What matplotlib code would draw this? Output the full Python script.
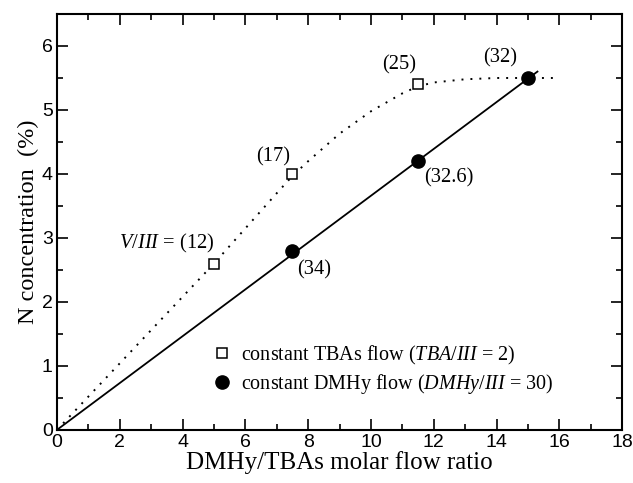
import matplotlib
matplotlib.use("Agg")
import matplotlib.pyplot as plt
from matplotlib.ticker import MultipleLocator

plt.rcParams["font.family"] = ["Liberation Serif", "DejaVu Serif"]
plt.rcParams["mathtext.fontset"] = "custom"
plt.rcParams["mathtext.rm"] = "Liberation Serif"
plt.rcParams["mathtext.it"] = "Liberation Serif:italic"

# constant TBAs flow (open squares)
tba_x = [5.0, 7.5, 11.5]
tba_y = [2.6, 4.0, 5.4]
tba_labels = ["(12)", "(17)", "(25)"]

# constant DMHy flow (filled circles)
dmhy_x = [7.5, 11.5, 15.0]
dmhy_y = [2.8, 4.2, 5.5]
dmhy_labels = ["(34)", "(32.6)", "(32)"]

# guide curves
curve_x = [0, 1, 2, 3, 4, 5, 6, 7, 7.5, 8, 9, 10, 11, 11.5, 12, 13, 14, 15, 16]
curve_y = [0, 0.52, 1.04, 1.56, 2.08, 2.6, 3.15, 3.7, 3.97, 4.2, 4.63, 4.98, 5.26,
           5.37, 5.43, 5.48, 5.5, 5.5, 5.5]
fit_x = [0, 15.3]
fit_y = [0, 5.6]

fig = plt.figure(figsize=(6.33, 4.83), dpi=100)
ax = fig.add_axes([0.090, 0.110, 0.893, 0.861])

ax.plot(curve_x, curve_y, color="black", lw=1.4, ls=(0, (1, 3.6)))
ax.plot(fit_x, fit_y, color="black", lw=1.3)
ax.plot(tba_x, tba_y, ls="none", marker="s", ms=7.5, mfc="white", mec="black", mew=1.1,
        label=r"constant TBAs flow ($\mathit{TBA/III}$ = 2)")
ax.plot(dmhy_x, dmhy_y, ls="none", marker="o", ms=9.5, color="black",
        label=r"constant DMHy flow ($\mathit{DMHy/III}$ = 30)")

# ratio annotations
fs = 14.8
ax.text(5.03, 2.92, r"$\mathit{V/III}$ = " + tba_labels[0], ha="right", va="center", fontsize=fs)
ax.text(6.88, 4.27, tba_labels[1], ha="center", va="center", fontsize=fs)
ax.text(10.9, 5.70, tba_labels[2], ha="center", va="center", fontsize=fs)
ax.text(8.2, 2.5, dmhy_labels[0], ha="center", va="center", fontsize=fs)
ax.text(12.48, 3.94, dmhy_labels[1], ha="center", va="center", fontsize=fs)
ax.text(14.1, 5.81, dmhy_labels[2], ha="center", va="center", fontsize=fs)

ax.legend(loc="upper left", bbox_to_anchor=(0.257, 0.226), frameon=False, fontsize=14.5,
          handletextpad=0.3, labelspacing=0.25, borderaxespad=0, handlelength=1.2)

ax.set_xlim(0, 18)
ax.set_ylim(0, 6.5)
ax.xaxis.set_major_locator(MultipleLocator(2))
ax.xaxis.set_minor_locator(MultipleLocator(1))
ax.yaxis.set_major_locator(MultipleLocator(1))
ax.yaxis.set_minor_locator(MultipleLocator(0.5))
ax.tick_params(which="both", direction="in", top=True, right=True, width=1.2)
ax.tick_params(which="major", length=8, pad=3)
ax.tick_params(which="minor", length=4.5)
for lab in ax.get_xticklabels() + ax.get_yticklabels():
    lab.set_family("Liberation Sans")
    lab.set_fontsize(14)
for sp in ax.spines.values():
    sp.set_linewidth(1.5)

ax.set_xlabel("DMHy/TBAs molar flow ratio", fontsize=18, labelpad=0)
ax.set_ylabel("N concentration  (%)", fontsize=17.5, labelpad=2)

fig.savefig("out.png", dpi=100)
